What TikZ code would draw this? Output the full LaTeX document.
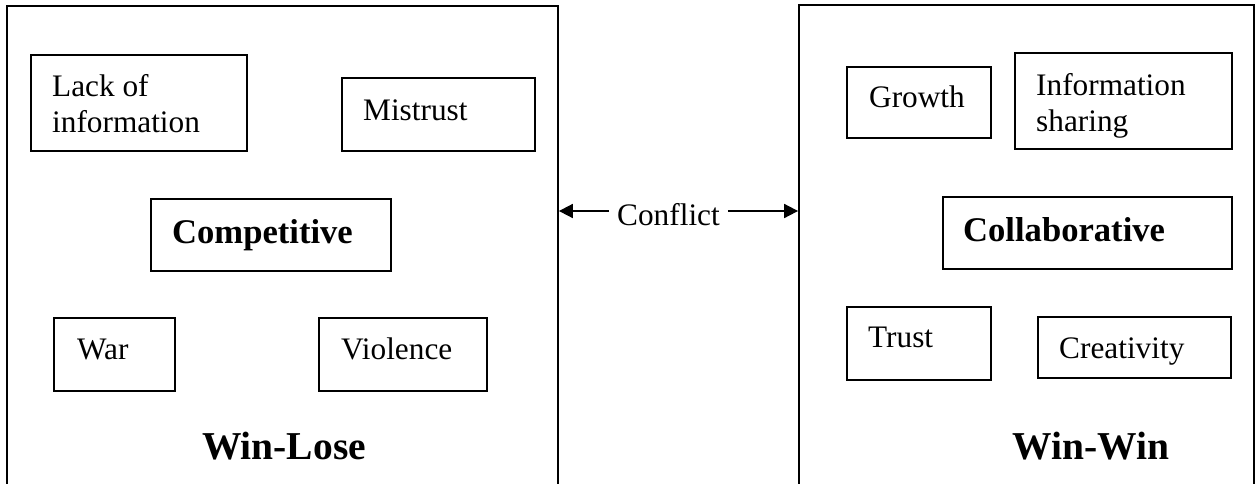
\documentclass[tikz,border=0pt]{standalone}
\usepackage{fontspec}
\setmainfont{Liberation Serif}
\usetikzlibrary{fit,arrows.meta}
\tikzset{
  frame/.style={draw, line width=1.8pt, inner sep=0pt},
  itembox/.style={draw, line width=1.8pt, inner sep=0pt},
  txt/.style={inner sep=0pt, anchor=base west, align=left, font=\fontsize{31.3}{36}\selectfont},
  boldtxt/.style={inner sep=0pt, anchor=base west, font=\fontsize{34.6}{40}\selectfont\bfseries},
  bigtxt/.style={inner sep=0pt, anchor=base, font=\fontsize{39.5}{45}\selectfont\bfseries},
  arr/.style={line width=1.8pt, -{Triangle[length=14pt,width=14pt]}}
}
\begin{document}
\begin{tikzpicture}[x=1pt,y=-1pt]
\useasboundingbox (0,0) rectangle (1256,483);
\clip (0,0) rectangle (1256,483);
\fill[white] (0,0) rectangle (1256,483);
% outer frames (their bottoms run below the picture)
\node[frame, fit={(7,6) (558,520)}] (winlose) {};
\node[frame, fit={(799,5) (1254,520)}] (winwin) {};
% left items
\node[itembox, fit={(31,55) (247,151)}] (lack) {};
\node[txt] (lackt) at (52,132) {Lack of\\information};
\node[itembox, fit={(342,78) (535,151)}] (mistrust) {};
\node[txt] (mistrustt) at (363,120) {Mistrust};
\node[itembox, fit={(151,199) (391,271)}] (compet) {};
\node[boldtxt] (compett) at (172,243) {Competitive};
\node[itembox, fit={(54,318) (175,391)}] (war) {};
\node[txt] (wart) at (77,359) {War};
\node[itembox, fit={(319,318) (487,391)}] (violence) {};
\node[txt] (violencet) at (341,359) {Violence};
\node[bigtxt] (wl) at (284,459) {Win-Lose};
% right items
\node[itembox, fit={(847,67) (991,138)}] (growth) {};
\node[txt] (growtht) at (869,107) {Growth};
\node[itembox, fit={(1015,53) (1232,149)}] (infosh) {};
\node[txt] (infosht) at (1036,131) {Information\\sharing};
\node[itembox, fit={(943,197) (1232,269)}] (collab) {};
\node[boldtxt] (collabt) at (963,241) {Collaborative};
\node[itembox, fit={(847,307) (991,380)}] (trust) {};
\node[txt] (trustt) at (868,347) {Trust};
\node[itembox, fit={(1038,317) (1231,378)}] (creat) {};
\node[txt] (creatt) at (1059,358) {Creativity};
\node[bigtxt] (ww) at (1091,459) {Win-Win};
% conflict arrows
\coordinate (mid) at (668,211);
\node[inner xsep=8pt, inner ysep=0pt, anchor=base west, font=\fontsize{31.3}{36}\selectfont] (conf) at (609,225) {Conflict};
\draw[arr] (conf.west |- mid) -- (winlose.east |- mid);
\draw[arr] (conf.east |- mid) -- (winwin.west |- mid);
\end{tikzpicture}
\end{document}
